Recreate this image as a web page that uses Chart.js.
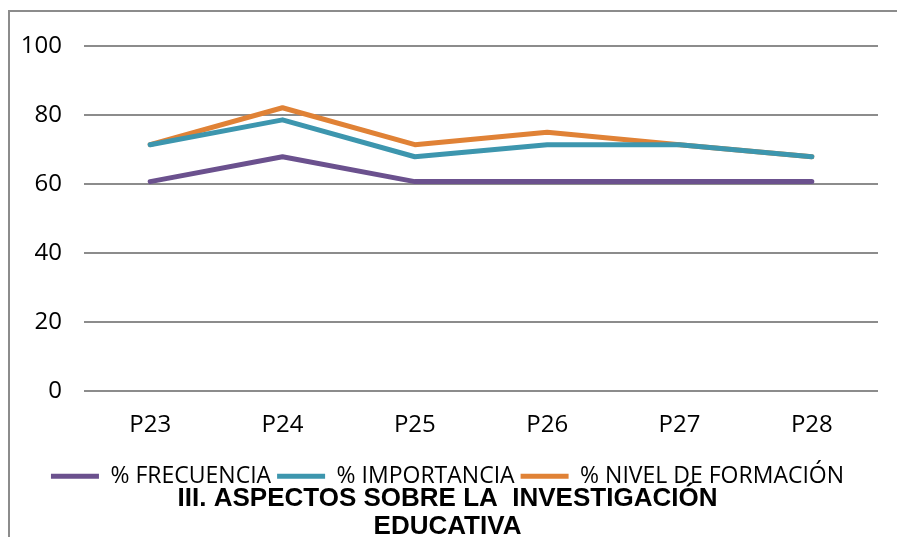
<!DOCTYPE html>
<html>
<head>
<meta charset="utf-8">
<script src="https://cdn.jsdelivr.net/npm/chart.js@4/dist/chart.umd.min.js"></script>
<style>
  html, body { margin: 0; padding: 0; background: #fff; overflow: hidden; }
  #wrap { width: 897px; height: 537px; position: relative; overflow: hidden; }
</style>
</head>
<body>
<div id="wrap"><canvas id="chart" width="897" height="543"></canvas></div>
<script>
const categories = ['P23', 'P24', 'P25', 'P26', 'P27', 'P28'];
const frecuencia = [60.7, 67.9, 60.7, 60.7, 60.7, 60.7];
const importancia = [71.4, 78.6, 67.9, 71.4, 71.4, 67.9];
const nivelFormacion = [71.4, 82.1, 71.4, 75.0, 71.4, 67.9];
const yTicks = [0, 20, 40, 60, 80, 100];

// outer frame of the original chart object (left and top edges visible)
const framePlugin = {
    id: 'frame',
    beforeDraw(chart) {
        const ctx = chart.ctx;
        ctx.save();
        ctx.strokeStyle = '#8c8c8c';
        ctx.lineWidth = 2;
        ctx.strokeRect(9, 11, 1000, 1000);
        ctx.restore();
    }
};

const ds = (label, data, color) => ({
    label,
    data,
    borderColor: color,
    backgroundColor: color,
    borderWidth: 5,
    borderCapStyle: 'round',
    borderJoinStyle: 'round',
    pointRadius: 0,
    pointStyle: 'line',
    tension: 0
});

const tickFont = { family: 'Open Sans', size: 24 };

new Chart(document.getElementById('chart'), {
    type: 'line',
    data: {
        labels: categories,
        datasets: [
            ds('% FRECUENCIA', frecuencia, '#6b518e'),
            ds('% IMPORTANCIA', importancia, '#3d96ae'),
            ds('% NIVEL DE FORMACIÓN', nivelFormacion, '#e08236')
        ]
    },
    options: {
        responsive: false,
        animation: false,
        layout: { padding: { left: 17, right: 19, top: 46, bottom: 0 } },
        scales: {
            x: {
                offset: true,
                grid: { display: false, drawTicks: false },
                border: { display: false },
                ticks: { padding: 20, color: '#000', font: tickFont },
                afterFit(scale) { scale.height -= 1; }
            },
            y: {
                min: 0,
                max: 100,
                afterBuildTicks(axis) { axis.ticks = yTicks.map(v => ({ value: v })); },
                afterFit(scale) { scale.width = 67; },
                grid: { color: '#8c8c8c', lineWidth: 2, drawTicks: false },
                border: { display: false },
                ticks: { padding: 22, color: '#000', font: tickFont }
            }
        },
        plugins: {
            legend: {
                position: 'bottom',
                labels: {
                    usePointStyle: true,
                    pointStyle: 'line',
                    pointStyleWidth: 48,
                    boxHeight: 23,
                    padding: 6,
                    color: '#000',
                    font: { family: 'Open Sans', size: 23 }
                }
            },
            title: {
                display: true,
                position: 'bottom',
                text: ['III. ASPECTOS SOBRE LA  INVESTIGACIÓN', 'EDUCATIVA'],
                color: '#000',
                font: { family: 'Liberation Sans', size: 26, weight: 'bold', lineHeight: 1.08 },
                padding: { top: -13, bottom: 2 }
            },
            tooltip: { enabled: false }
        }
    },
    plugins: [framePlugin]
});
</script>
</body>
</html>
